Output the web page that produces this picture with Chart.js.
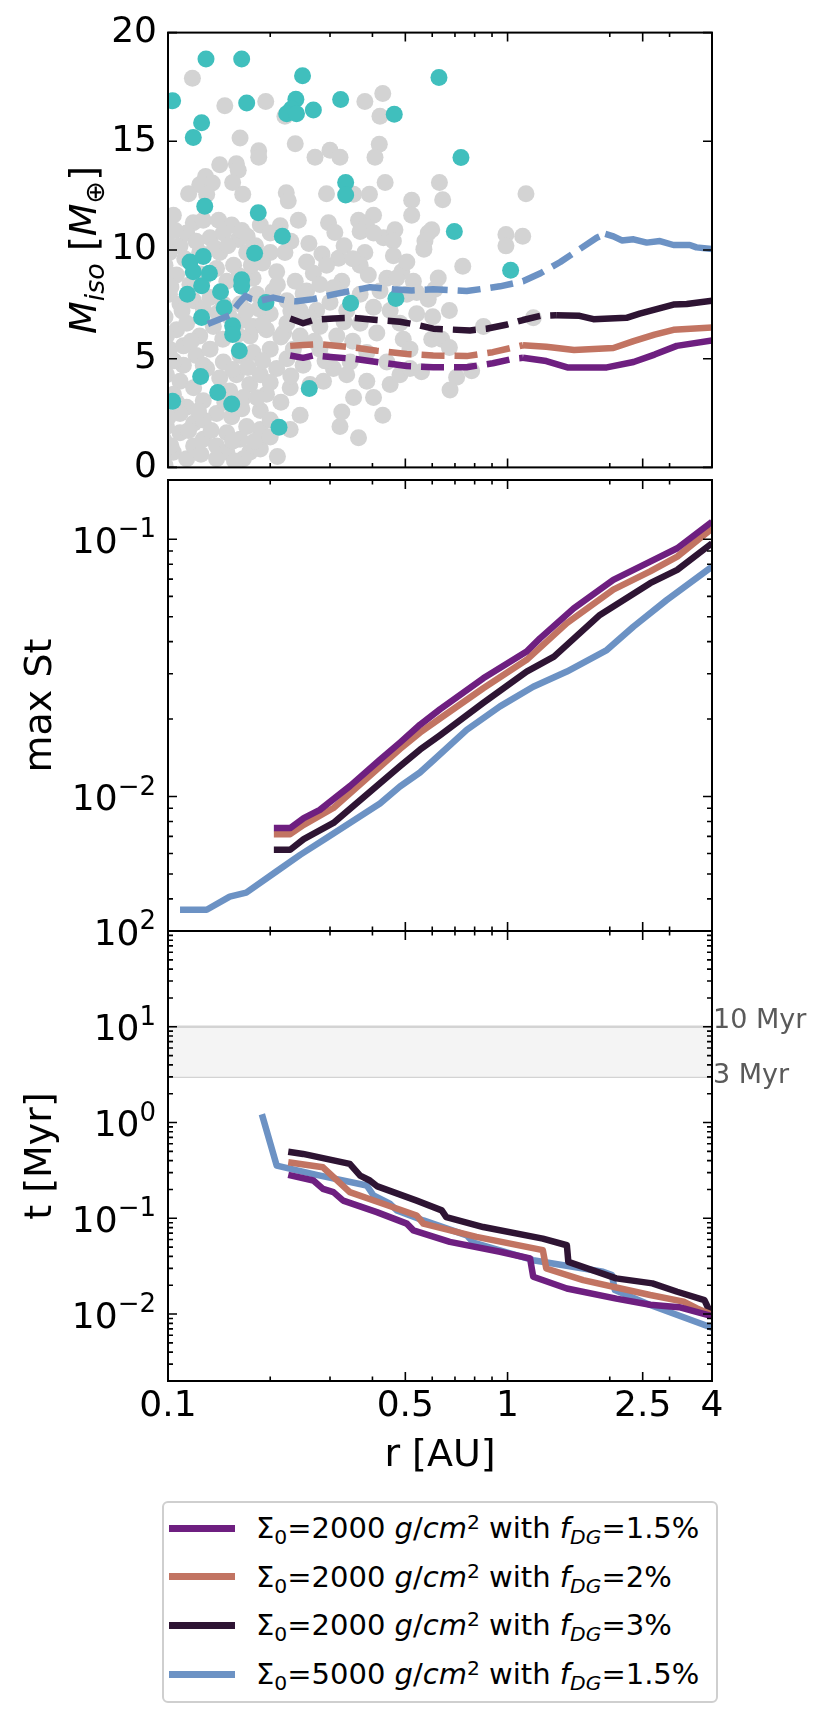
<!DOCTYPE html>
<html>
<head>
<meta charset="utf-8">
<script src="https://cdn.jsdelivr.net/npm/chart.js@4.4.1/dist/chart.umd.min.js"></script>
<style>
  html, body { margin: 0; background: #fff; }
  #fig { position: relative; width: 830px; height: 1722px; font-family: 'DejaVu Sans', sans-serif; }
  #fig canvas { position: absolute; left: 0; }
  #legend { position: absolute; left: 162px; top: 1501px; width: 556px; height: 202px; box-sizing: border-box;
            border: 2px solid #cfcfcf; border-radius: 6px; padding-top: 1px; font-size: 29px; color: #000; }
  .leg-row { height: 48.6px; display: flex; align-items: center; white-space: nowrap; }
  .leg-sw { display: inline-block; width: 66px; height: 7px; margin-left: 5px; margin-right: 21px; }
  .sb { font-size: 70%; position: relative; top: 0.28em; }
  .sp { font-size: 70%; position: relative; top: -0.45em; }
</style>
</head>
<body>
<div id="fig">
  <canvas id="c-miso" width="830" height="500" style="top:0"></canvas>
  <canvas id="c-st" width="830" height="480" style="top:470px"></canvas>
  <canvas id="c-t" width="830" height="600" style="top:900px"></canvas>
  <div id="legend"></div>
</div>
<script>
const FONT = 'DejaVu Sans';

// axes
const rMin = 0.1, rMax = 4;
const xTickLabels = [0.1, 0.5, 1, 2.5, 4];
const xMinorTicks = [0.2, 0.3, 0.4, 0.6, 0.7, 0.8, 0.9, 2, 3];
const massTicks = [0, 5, 10, 15, 20];
const stRange = [0.003, 0.17];
const stDecades = [-2, -1];
const tRange = [0.002, 100];
const tDecades = [-2, -1, 0, 1, 2];
const bandMyr = [3, 10];
const bandLabels = ['3 Myr', '10 Myr'];

// series: f_DG=1.5%, 2%, 3% (Sigma0=2000) and Sigma0=5000
const seriesColors = ['#6e1f80', '#c27462', '#2e1433', '#6c92c4'];
const sigma0 = ['2000', '2000', '2000', '5000'];
const fDG = ['1.5', '2', '3', '1.5'];
const dashUntil = [1.1, 1.1, 1.39, 1.9];

// panel 1: isolation mass
const misoR15 = [0.229, 0.25, 0.268, 0.307, 0.351, 0.412, 0.505, 0.604, 0.758, 0.905, 1.04, 1.11, 1.30, 1.50, 1.96, 2.35, 2.71, 3.15, 4.0];
const misoV15 = [5.15, 5.04, 5.15, 5.07, 5.0, 4.85, 4.66, 4.61, 4.61, 4.79, 5.0, 5.04, 4.89, 4.60, 4.60, 4.85, 5.19, 5.59, 5.84];
const misoR2 = [0.229, 0.25, 0.28, 0.351, 0.412, 0.505, 0.604, 0.758, 0.905, 1.02, 1.11, 1.30, 1.57, 2.05, 2.35, 2.71, 3.08, 4.0];
const misoV2 = [5.59, 5.63, 5.67, 5.52, 5.37, 5.22, 5.15, 5.12, 5.30, 5.49, 5.62, 5.55, 5.40, 5.49, 5.81, 6.11, 6.33, 6.44];
const misoR3 = [0.229, 0.25, 0.268, 0.307, 0.351, 0.412, 0.482, 0.54, 0.604, 0.775, 0.867, 0.99, 1.11, 1.25, 1.39, 1.63, 1.79, 2.24, 2.45, 3.08, 3.37, 4.0];
const misoV3 = [6.85, 6.63, 6.78, 6.85, 6.88, 6.78, 6.70, 6.56, 6.38, 6.30, 6.38, 6.56, 6.78, 6.97, 7.0, 6.97, 6.82, 6.88, 7.07, 7.49, 7.52, 7.67];
const misoR5k = [0.131, 0.152, 0.161, 0.169, 0.176, 0.187, 0.204, 0.224, 0.239, 0.268, 0.307, 0.344, 0.394, 0.461, 0.522, 0.604, 0.758, 0.95, 1.11, 1.25, 1.43, 1.63, 1.83, 1.94, 2.05, 2.17, 2.35, 2.57, 2.81, 3.08, 3.44, 3.6, 4.0];
const misoV5k = [6.6, 7.0, 7.52, 7.89, 7.74, 7.67, 7.81, 7.67, 7.64, 7.74, 7.96, 8.11, 8.29, 8.19, 8.14, 8.19, 8.11, 8.33, 8.56, 8.93, 9.45, 10.04, 10.56, 10.74, 10.63, 10.44, 10.49, 10.34, 10.41, 10.23, 10.23, 10.12, 10.04];

// panel 1: observed planets (grey) and highlighted planets (cyan)
const greyR = [0.118,0.147,0.194,0.221,0.380,0.429,0.421,0.163,0.237,0.185,0.185,0.142,0.159,0.161,0.155,0.129,0.124,0.135,0.115,0.130,
  0.166,0.271,0.300,0.321,0.419,0.407,0.436,0.223,0.226,0.293,0.352,0.392,0.522,0.522,0.297,0.242,0.214,0.364,0.403,0.385,
  0.368,0.431,0.466,0.461,0.1037,0.1187,0.127,0.141,0.154,0.171,0.187,0.200,0.099,0.1085,0.133,0.1455,0.161,0.1705,0.200,0.221,
  0.256,0.284,0.318,0.380,0.403,0.461,0.488,0.098,0.106,0.139,0.149,0.156,0.178,0.209,0.237,0.268,0.293,0.325,0.368,0.389,
  0.441,0.505,0.528,0.101,0.1085,0.119,0.133,0.163,0.1825,0.200,0.224,0.256,0.274,0.307,0.368,0.403,0.451,0.505,0.098,0.106,
  0.1135,0.136,0.1667,0.1744,0.195,0.219,0.245,0.280,0.314,0.368,0.412,0.482,0.493,0.101,0.111,0.121,0.133,0.1455,0.178,0.200,
  0.224,0.250,0.280,0.307,0.344,0.385,0.441,0.516,0.099,0.1085,0.119,0.142,0.159,0.174,0.195,0.229,0.287,0.336,0.385,0.451,
  0.482,0.516,0.1037,0.1135,0.127,0.139,0.154,0.1667,0.187,0.245,0.325,0.321,0.429,0.364,0.099,0.1085,0.119,0.127,0.139,0.149,
  0.163,0.174,0.187,0.1667,0.1037,0.1135,0.139,0.187,0.229,0.098,0.097,0.1135,0.124,0.142,0.116,0.127,0.1455,0.152,0.124,0.099,
  0.111,0.130,0.163,0.152,0.127,0.1085,0.149,0.119,0.097,0.209,0.187,0.178,0.224,0.204,0.245,0.336,0.280,0.421,0.471,0.101,
  0.234,0.262,0.403,0.352,0.1705,0.200,0.630,0.644,0.584,0.571,0.567,0.598,0.738,0.625,0.611,0.584,0.540,0.540,0.602,0.674,
  0.989,1.108,0.989,1.133,0.849,0.598,0.640,0.674,0.558,0.708,0.677,0.784,1.191,
  0.105,0.112,0.121,0.137,0.150,0.165,0.181,0.190,0.176,0.162,0.125,0.102,0.110,0.127,0.140,0.170,0.185,0.190,0.160,0.145,
  0.117,0.104,0.127,0.155,0.172,0.190,0.200,0.183,0.165,0.147,0.123,0.106,0.100,0.115,0.134,0.155,0.180,0.200,0.210,0.125,
  0.102,0.157,0.215,0.230,0.215,0.230,0.210,0.230,0.260,0.250,0.260,0.300,0.330,0.350,0.270,0.290,0.330,0.350,0.310];
const greyM = [17.9,16.64,16.83,16.15,16.83,17.2,16.15,15.15,14.89,14.56,14.27,13.92,13.97,13.67,13.11,13.38,13.0,13.08,12.59,12.56,
  12.56,14.27,14.59,14.27,14.86,14.27,13.11,12.63,12.26,12.59,12.56,12.56,12.29,11.60,11.25,11.37,11.11,11.37,11.60,11.08,
  10.85,10.56,10.93,10.41,11.6,11.25,11.37,11.37,11.15,10.63,11.15,10.78,10.48,10.19,10.56,10.78,10.48,9.89,9.89,9.89,
  9.45,9.82,9.62,9.89,10.78,9.74,9.0,9.3,8.85,9.15,8.56,9.3,8.7,9.0,8.56,8.93,9.3,8.56,9.3,8.85,
  8.7,9.45,8.56,7.96,7.52,7.67,7.81,7.52,7.96,7.07,7.67,8.11,7.22,8.26,7.96,7.37,7.22,7.96,6.92,6.33,
  6.63,6.48,6.78,6.04,6.33,6.18,6.04,6.48,6.04,6.63,6.18,6.63,5.89,5.44,5.59,5.15,5.44,4.85,5.29,5.44,
  5.0,4.7,5.44,4.55,4.85,5.29,4.85,5.44,4.26,3.96,3.66,4.11,4.26,3.81,3.37,3.66,3.96,4.26,3.96,3.81,
  4.26,4.55,3.37,2.77,3.07,2.48,2.33,3.22,2.62,2.4,2.55,1.88,2.4,1.36,1.88,1.59,2.03,1.29,0.99,0.7,
  1.29,0.7,0.85,0.4,0.7,0.4,0.4,1.74,1.74,0.1,11.08,10.78,9.89,9.89,8.41,8.7,7.52,6.92,6.04,6.04,
  4.7,4.55,5.15,3.52,2.18,2.48,1.59,0.99,1.29,4.55,4.26,6.48,6.63,8.11,7.22,7.22,8.41,8.11,8.7,9.89,
  5.44,3.81,3.22,3.22,1.88,2.18,13.11,12.31,10.78,10.41,10.04,10.93,9.25,8.71,8.19,7.74,8.04,7.07,6.93,7.22,
  10.71,10.63,10.19,12.59,6.48,5.89,5.89,5.52,4.40,4.15,3.56,4.45,6.88,
  10.9,9.6,10.4,10.1,10.2,10.9,10.2,9.4,9.3,8.8,8.9,8.3,7.2,7.3,7.1,7.2,7.3,6.6,6.1,5.9,
  5.8,4.9,4.7,4.5,4.6,4.9,3.9,3.2,2.7,3.0,2.6,3.0,2.3,1.7,1.7,1.2,1.2,1.4,0.5,0.6,
  1.0,0.3,3.0,4.2,6.0,7.2,8.4,10.4,10.3,8.0,6.9,7.6,6.7,5.8,5.8,4.9,10.2,9.6,10.8];
const cyanR = [0.1294,0.1648,0.249,0.1032,0.1705,0.238,0.231,0.2236,0.239,0.268,0.3224,0.4638,0.1256,0.1187,0.3336,0.3336,
  0.1283,0.1844,0.2172,0.1799,0.1161,0.127,0.1187,0.1324,0.1256,0.114,0.1428,0.1648,0.1648,0.1464,0.1256,0.155,0.155,
  0.1622,0.1943,0.345,0.469,0.1248,0.1401,0.154,0.1032,0.2606,0.2123,0.628,0.729,0.697,1.021];
const cyanM = [18.79,18.79,18.02,16.86,16.76,16.93,16.49,16.27,16.27,16.44,16.92,16.24,15.85,15.18,13.11,12.53,
  12.01,11.71,10.63,9.85,9.45,9.70,9.0,8.93,8.36,7.96,8.08,8.63,8.33,7.34,6.90,6.51,6.11,
  5.37,7.59,7.55,7.77,4.18,3.44,2.92,3.04,3.63,1.85,17.93,14.25,10.85,9.07];

// panel 2: max Stokes number
const stR15 = [0.205, 0.229, 0.251, 0.28, 0.344, 0.421, 0.482, 0.552, 0.632, 0.848, 1.138, 1.246, 1.566, 2.048, 2.63, 3.16, 4.0];
const stV15 = [0.00754, 0.00754, 0.00824, 0.00887, 0.0110, 0.0139, 0.0162, 0.0190, 0.0218, 0.0288, 0.0366, 0.0412, 0.0539, 0.0695, 0.0819, 0.0923, 0.117];
const stR2 = [0.205, 0.229, 0.251, 0.307, 0.482, 0.552, 0.632, 0.848, 1.138, 1.495, 2.048, 2.63, 3.16, 4.0];
const stV2 = [0.00714, 0.00714, 0.00776, 0.00902, 0.01529, 0.0177, 0.0201, 0.02636, 0.034, 0.0472, 0.0637, 0.075, 0.0856, 0.110];
const stR3 = [0.205, 0.229, 0.251, 0.307, 0.482, 0.552, 0.632, 0.848, 1.138, 1.37, 1.87, 2.63, 3.16, 4.0];
const stV3 = [0.00621, 0.00621, 0.00683, 0.00789, 0.0131, 0.0152, 0.0173, 0.0231, 0.0306, 0.035, 0.0508, 0.0675, 0.076, 0.0965];
const stR5k = [0.1085, 0.130, 0.152, 0.170, 0.209, 0.245, 0.293, 0.421, 0.482, 0.552, 0.604, 0.758, 0.95, 1.19, 1.495, 1.96, 2.346, 2.94, 4.0];
const stV5k = [0.00363, 0.00363, 0.00408, 0.00423, 0.00512, 0.00593, 0.00689, 0.0094, 0.01094, 0.0124, 0.0138, 0.01816, 0.0224, 0.0267, 0.0306, 0.0371, 0.0457, 0.058, 0.0783];

// panel 3: time [Myr]
const tR15 = [0.226, 0.268, 0.286, 0.307, 0.328, 0.412, 0.505, 0.528, 0.676, 0.95, 1.165, 1.19, 1.495, 2.09, 2.63, 3.2, 4.0];
const tV15 = [0.284, 0.248, 0.203, 0.1875, 0.153, 0.116, 0.088, 0.0748, 0.0567, 0.0447, 0.038, 0.0245, 0.0185, 0.0145, 0.0125, 0.0118, 0.0095];
const tR2 = [0.226, 0.286, 0.30, 0.343, 0.43, 0.54, 0.565, 0.81, 1.27, 1.30, 1.67, 2.63, 3.3, 3.6, 4.0];
const tV2 = [0.385, 0.341, 0.291, 0.1875, 0.142, 0.107, 0.088, 0.064, 0.0465, 0.0299, 0.0226, 0.0158, 0.0135, 0.0115, 0.0098];
const tR3 = [0.226, 0.25, 0.343, 0.368, 0.393, 0.412, 0.54, 0.64, 0.66, 0.848, 1.27, 1.495, 1.51, 2.09, 2.67, 3.16, 3.8, 3.9, 4.0];
const tV3 = [0.496, 0.47, 0.37, 0.279, 0.248, 0.217, 0.153, 0.121, 0.103, 0.081, 0.0614, 0.0523, 0.0351, 0.0236, 0.0209, 0.0171, 0.014, 0.0115, 0.0108];
const tR5k = [0.189, 0.209, 0.274, 0.385, 0.403, 0.45, 0.472, 0.565, 0.758, 0.793, 1.19, 1.91, 2.03, 2.07, 2.63, 4.0];
const tV5k = [1.22, 0.355, 0.284, 0.22, 0.173, 0.142, 0.121, 0.095, 0.0664, 0.0557, 0.0365, 0.0277, 0.0255, 0.0178, 0.01244, 0.0072];

const pts = (xs, ys) => xs.map((x, i) => ({ x, y: ys[i] }));

function curveSets(rs, vs, dashed) {
  return rs.map((r, i) => ({
    data: pts(r, vs[i]), showLine: true, pointRadius: 0, borderWidth: 6.5,
    borderColor: seriesColors[i], borderCapStyle: 'butt', borderJoinStyle: 'round', order: 0,
    segment: dashed ? { borderDash: c => c.p0.parsed.x < dashUntil[i] ? [23, 10] : undefined } : {},
  }));
}

function logMinors(range) {
  const out = [];
  for (let e = Math.floor(Math.log10(range[0])); e <= Math.ceil(Math.log10(range[1])); e++) {
    for (let k = 2; k <= 9; k++) {
      const v = k * Math.pow(10, e);
      if (v >= range[0] && v <= range[1]) out.push(v);
    }
  }
  return out;
}

function richText(ctx, runs, x, y, rotate) {
  ctx.save();
  ctx.translate(x, y);
  if (rotate) ctx.rotate(-Math.PI / 2);
  ctx.textAlign = 'left'; ctx.textBaseline = 'alphabetic'; ctx.fillStyle = '#000';
  const f = r => `${r.italic ? 'italic ' : ''}${r.size}px "${FONT}"`;
  let w = 0;
  runs.forEach(r => { ctx.font = f(r); w += ctx.measureText(r.t).width; });
  let cx = -w / 2;
  runs.forEach(r => { ctx.font = f(r); ctx.fillText(r.t, cx, r.dy || 0); cx += ctx.measureText(r.t).width; });
  ctx.restore();
}

const framePlugin = {
  id: 'frame',
  afterDraw(chart, args, o) {
    const { ctx, chartArea: a } = chart;
    const xs = chart.scales.x, ys = chart.scales.y;
    ctx.save();
    ctx.strokeStyle = '#000';
    ctx.lineWidth = 1.6;
    ctx.beginPath();
    const xt = (vals, len) => vals.forEach(v => {
      const p = xs.getPixelForValue(v);
      ctx.moveTo(p, a.top); ctx.lineTo(p, a.top + len);
      ctx.moveTo(p, a.bottom); ctx.lineTo(p, a.bottom - len);
    });
    const yt = (vals, len) => vals.forEach(v => {
      const p = ys.getPixelForValue(v);
      ctx.moveTo(a.left, p); ctx.lineTo(a.left + len, p);
      ctx.moveTo(a.right, p); ctx.lineTo(a.right - len, p);
    });
    xt(xTickLabels, 9); xt(xMinorTicks, 4.5);
    yt(o.yMajor, 9); yt(o.yMinor || [], 5);
    ctx.stroke();

    ctx.fillStyle = '#000';
    (o.logLabels || []).forEach(e => {
      const p = ys.getPixelForValue(Math.pow(10, e));
      const ex = e < 0 ? '\u2212' + (-e) : String(e);
      ctx.font = `26px "${FONT}"`;
      const ew = ctx.measureText(ex).width;
      ctx.textAlign = 'left'; ctx.textBaseline = 'alphabetic';
      ctx.fillText(ex, 156 - ew, p - 2);
      ctx.font = `36px "${FONT}"`;
      ctx.textAlign = 'right';
      ctx.fillText('10', 156 - ew, p + 13.5);
    });

    if (o.band) {
      ctx.font = `27px "${FONT}"`;
      ctx.fillStyle = '#5a5a5a';
      ctx.textAlign = 'left'; ctx.textBaseline = 'alphabetic';
      ctx.fillText(bandLabels[1], a.right + 1, ys.getPixelForValue(bandMyr[1]) + 1.5);
      ctx.fillText(bandLabels[0], a.right + 1, ys.getPixelForValue(bandMyr[0]) + 6);
    }

    richText(ctx, o.title, o.titleX, (a.top + a.bottom) / 2, true);
    if (o.xTitle) richText(ctx, [{ t: o.xTitle, size: 38 }], (a.left + a.right) / 2, a.bottom + 85, false);

    ctx.lineWidth = 2;
    ctx.strokeStyle = '#000';
    ctx.strokeRect(a.left, a.top, a.right - a.left, a.bottom - a.top);
    ctx.restore();
  }
};

const tickFont = { family: FONT, size: 36 };
const fixWidth = s => { s.width = 168; };

function xScale(show) {
  return {
    type: 'logarithmic', min: rMin, max: rMax, display: show, position: 'bottom',
    grid: { display: false, drawTicks: false }, border: { display: false },
    afterBuildTicks: s => { s.ticks = xTickLabels.map(v => ({ value: v })); },
    afterFit: s => { s.height = show ? 119 : 0; },
    ticks: { font: tickFont, color: '#000', padding: 4, autoSkip: false, maxRotation: 0, callback: v => String(v) },
  };
}

function makeChart(id, datasets, pad, yScale, show, frame) {
  return new Chart(document.getElementById(id), {
    type: 'scatter',
    data: { datasets },
    options: {
      responsive: false, animation: false, events: [],
      layout: { padding: pad },
      plugins: { legend: { display: false }, tooltip: { enabled: false }, frame },
      scales: { x: xScale(show), y: yScale },
    },
    plugins: [framePlugin],
  });
}

// panel 1
makeChart('c-miso', [
  ...curveSets([misoR15, misoR2, misoR3, misoR5k], [misoV15, misoV2, misoV3, misoV5k], true),
  { data: pts(cyanR, cyanM), pointRadius: 8.5, pointBorderWidth: 0, pointBackgroundColor: '#40bfbd', order: 1 },
  { data: pts(greyR, greyM), pointRadius: 8.5, pointBorderWidth: 0, pointBackgroundColor: '#d3d3d3', order: 2 },
], { top: 31, bottom: 20, right: 118, left: 0 }, {
  type: 'linear', min: massTicks[0], max: massTicks[massTicks.length - 1],
  grid: { display: false, drawTicks: false }, border: { display: false },
  afterBuildTicks: s => { s.ticks = massTicks.map(v => ({ value: v })); },
  afterFit: fixWidth,
  ticks: { font: tickFont, color: '#000', padding: 11 },
}, false, {
  yMajor: massTicks,
  titleX: 96,
  title: [{ t: 'M', size: 38, italic: true }, { t: 'iso', size: 27, italic: true, dy: 8 }, { t: ' [', size: 38 },
          { t: 'M', size: 38, italic: true }, { t: '\u2295', size: 27, dy: 8 }, { t: ']', size: 38 }],
});

// panel 2
makeChart('c-st',
  curveSets([stR15, stR2, stR3, stR5k], [stV15, stV2, stV3, stV5k], false),
  { top: 10, bottom: 19, right: 118, left: 0 }, {
  type: 'logarithmic', min: stRange[0], max: stRange[1],
  grid: { display: false, drawTicks: false }, border: { display: false },
  afterFit: fixWidth, ticks: { display: false },
}, false, {
  yMajor: stDecades.map(e => Math.pow(10, e)), yMinor: logMinors(stRange), logLabels: stDecades,
  titleX: 50.5, title: [{ t: 'max St', size: 38 }],
});

// panel 3
makeChart('c-t', [
  ...curveSets([tR15, tR2, tR3, tR5k], [tV15, tV2, tV3, tV5k], false),
  { data: pts([rMin, rMax], [bandMyr[1], bandMyr[1]]), showLine: true, pointRadius: 0, borderWidth: 2.5,
    borderColor: '#d3d3d3', backgroundColor: '#f4f4f4', fill: { value: bandMyr[0] }, order: 5 },
  { data: pts([rMin, rMax], [bandMyr[0], bandMyr[0]]), showLine: true, pointRadius: 0, borderWidth: 2.5,
    borderColor: '#d3d3d3', order: 5 },
], { top: 31, bottom: 0, right: 118, left: 0 }, {
  type: 'logarithmic', min: tRange[0], max: tRange[1],
  grid: { display: false, drawTicks: false }, border: { display: false },
  afterFit: fixWidth, ticks: { display: false },
}, true, {
  yMajor: tDecades.map(e => Math.pow(10, e)), yMinor: logMinors(tRange), logLabels: tDecades,
  titleX: 50.5, title: [{ t: 't [Myr]', size: 38 }], xTitle: 'r [AU]', band: true,
});

// legend
document.getElementById('legend').innerHTML = seriesColors.map((c, i) =>
  `<div class="leg-row"><span class="leg-sw" style="background:${c}"></span>` +
  `<span>\u03A3<span class="sb">0</span>=${sigma0[i]} <i>g</i>/<i>cm</i><span class="sp">2</span> with ` +
  `<i>f</i><span class="sb"><i>DG</i></span>=${fDG[i]}%</span></div>`).join('');
</script>
</body>
</html>
